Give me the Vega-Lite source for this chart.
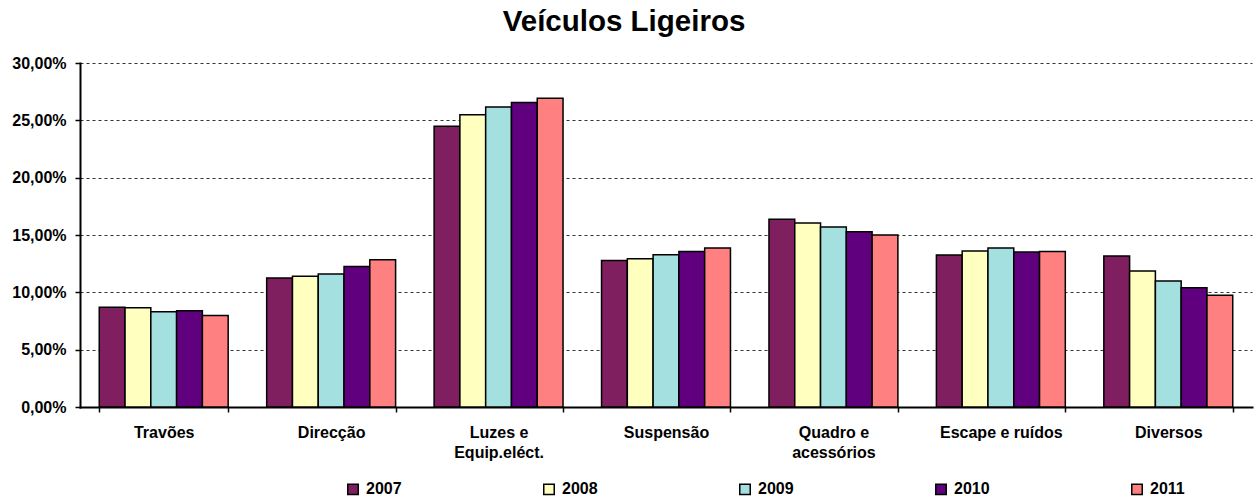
{
  "$schema": "https://vega.github.io/schema/vega-lite/v6.json",
  "width": 1172,
  "height": 344,
  "autosize": {"type": "none"},
  "padding": {"left": 80, "top": 63, "right": 2, "bottom": 96},
  "background": "white",
  "title": {"text": "Veículos Ligeiros", "fontSize": 29.5, "fontWeight": "bold", "font": "Liberation Sans", "color": "black", "anchor": "middle", "offset": 18, "dx": -42},
  "data": {"values": [
    {"cat": "Travões", "year": "2007", "value": 0.0871},
    {"cat": "Travões", "year": "2008", "value": 0.0865},
    {"cat": "Travões", "year": "2009", "value": 0.0830},
    {"cat": "Travões", "year": "2010", "value": 0.0839},
    {"cat": "Travões", "year": "2011", "value": 0.0798},
    {"cat": "Direcção", "year": "2007", "value": 0.1124},
    {"cat": "Direcção", "year": "2008", "value": 0.1141},
    {"cat": "Direcção", "year": "2009", "value": 0.1159},
    {"cat": "Direcção", "year": "2010", "value": 0.1226},
    {"cat": "Direcção", "year": "2011", "value": 0.1284},
    {"cat": "Luzes e Equip.eléct.", "year": "2007", "value": 0.2449},
    {"cat": "Luzes e Equip.eléct.", "year": "2008", "value": 0.2548},
    {"cat": "Luzes e Equip.eléct.", "year": "2009", "value": 0.2617},
    {"cat": "Luzes e Equip.eléct.", "year": "2010", "value": 0.2655},
    {"cat": "Luzes e Equip.eléct.", "year": "2011", "value": 0.2693},
    {"cat": "Suspensão", "year": "2007", "value": 0.1278},
    {"cat": "Suspensão", "year": "2008", "value": 0.1293},
    {"cat": "Suspensão", "year": "2009", "value": 0.1328},
    {"cat": "Suspensão", "year": "2010", "value": 0.1357},
    {"cat": "Suspensão", "year": "2011", "value": 0.1386},
    {"cat": "Quadro e acessórios", "year": "2007", "value": 0.1637},
    {"cat": "Quadro e acessórios", "year": "2008", "value": 0.1604},
    {"cat": "Quadro e acessórios", "year": "2009", "value": 0.1569},
    {"cat": "Quadro e acessórios", "year": "2010", "value": 0.1528},
    {"cat": "Quadro e acessórios", "year": "2011", "value": 0.1500},
    {"cat": "Escape e ruídos", "year": "2007", "value": 0.1325},
    {"cat": "Escape e ruídos", "year": "2008", "value": 0.1360},
    {"cat": "Escape e ruídos", "year": "2009", "value": 0.1386},
    {"cat": "Escape e ruídos", "year": "2010", "value": 0.1351},
    {"cat": "Escape e ruídos", "year": "2011", "value": 0.1357},
    {"cat": "Diversos", "year": "2007", "value": 0.1316},
    {"cat": "Diversos", "year": "2008", "value": 0.1185},
    {"cat": "Diversos", "year": "2009", "value": 0.1098},
    {"cat": "Diversos", "year": "2010", "value": 0.1039},
    {"cat": "Diversos", "year": "2011", "value": 0.0975}
  ]},
  "mark": {"type": "bar", "stroke": "black", "strokeWidth": 1.5},
  "encoding": {
    "x": {
      "field": "cat", "type": "nominal", "sort": null,
      "scale": {"paddingInner": 0.23, "paddingOuter": 0.115},
      "axis": {
        "title": null, "labelAngle": 0, "tickBand": "extent",
        "domainColor": "black", "domainWidth": 2, "tickColor": "black", "tickWidth": 1.5, "tickSize": 5,
        "labelFont": "Liberation Sans", "labelFontSize": 16, "labelFontWeight": "bold", "labelColor": "black",
        "labelPadding": 12, "labelLineHeight": 20.5, "labelBaseline": "top",
        "labelExpr": "datum.value == 'Luzes e Equip.eléct.' ? ['Luzes e', 'Equip.eléct.'] : datum.value == 'Quadro e acessórios' ? ['Quadro e', 'acessórios'] : datum.value"
      }
    },
    "xOffset": {"field": "year", "type": "nominal", "scale": {"paddingInner": 0, "paddingOuter": 0}},
    "y": {
      "field": "value", "type": "quantitative",
      "scale": {"domain": [0, 0.3], "nice": false},
      "axis": {
        "title": null, "values": [0, 0.05, 0.1, 0.15, 0.2, 0.25, 0.3],
        "labelExpr": "replace(format(datum.value, '.2%'), '.', ',')",
        "grid": true, "gridColor": "#333333", "gridDash": [3, 3], "gridWidth": 1,
        "domainColor": "black", "domainWidth": 2, "tickColor": "black", "tickWidth": 1.5, "tickSize": 5,
        "labelFont": "Liberation Sans", "labelFontSize": 16, "labelFontWeight": "bold", "labelColor": "black",
        "labelPadding": 9
      }
    },
    "color": {
      "field": "year", "type": "nominal",
      "scale": {"domain": ["2007", "2008", "2009", "2010", "2011"], "range": ["#7F1F5F", "#FFFFC0", "#A4E0E0", "#60007F", "#FF8080"]},
      "legend": {
        "title": null, "orient": "none", "legendX": 265, "legendY": 418, "direction": "horizontal", "columns": 5,
        "columnPadding": 138, "symbolType": "square", "symbolSize": 110, "symbolStrokeColor": "black", "symbolStrokeWidth": 1.5,
        "labelFont": "Liberation Sans", "labelFontSize": 16, "labelFontWeight": "bold", "labelColor": "black", "labelOffset": 5
      }
    }
  },
  "config": {"view": {"stroke": null}, "axis": {"domainCap": "square"}}
}
